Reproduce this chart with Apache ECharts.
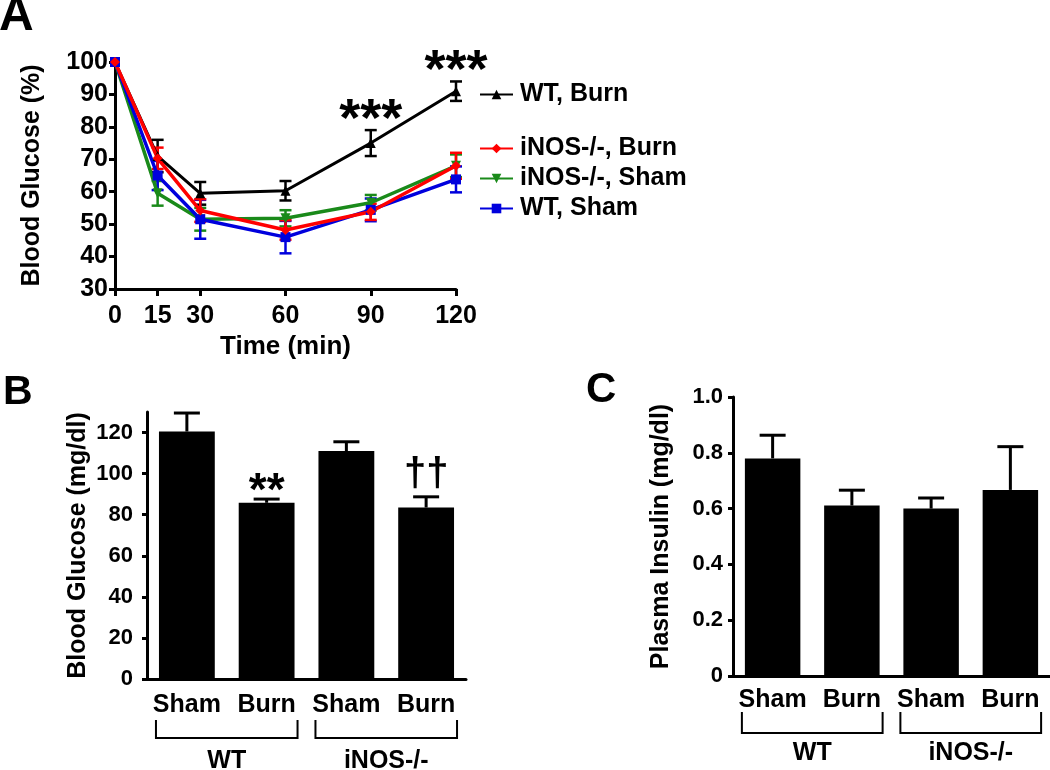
<!DOCTYPE html>
<html>
<head>
<meta charset="utf-8">
<script src="https://cdn.jsdelivr.net/npm/echarts@6/dist/echarts.min.js"></script>
<style>html,body{margin:0;padding:0;background:#fff}#c{width:1050px;height:770px}</style>
</head>
<body>
<div id="c"></div>
<script>
// ---------- Panel A data ----------
const timePoints = [0, 15, 30, 60, 90, 120];
const xTicksA = [0, 15, 30, 60, 90, 120];
const wtBurn = [100, 71, 59.5, 60.3, 75, 91];
const wtBurnErr = [0, 5, 3.5, 3, 4, 3];
const inosBurn = [100, 70.3, 54.2, 48.2, 53.8, 68];
const inosBurnErr = [0, 3.3, 3.5, 3, 2.5, 4];
const inosSham = [100, 59.5, 51.5, 51.8, 56.6, 68];
const inosShamErr = [0, 3.8, 3.5, 2.5, 2.4, 3.5];
const wtSham = [100, 65, 51.5, 46, 54.4, 63.8];
const wtShamErr = [0, 4.5, 6, 5, 3.5, 4];
const sigTimesA = [90, 120];
const sigLabelsA = ['***', '***'];

// ---------- Panel B / C data ----------
const barCategories = ['Sham', 'Burn', 'Sham', 'Burn'];
const glucoseMean = [120.5, 85.8, 111, 83.5];
const glucoseSem = [9, 1.8, 4.5, 5.2];
const glucoseSig = ['', '**', '', '\u2020\u2020'];
const yTicksB = [0, 20, 40, 60, 80, 100, 120];
const insulinMean = [0.78, 0.611, 0.6, 0.667];
const insulinSem = [0.083, 0.055, 0.038, 0.155];
const groupLabels = ['WT', 'iNOS-/-'];
const groupStart = [0, 2];
const groupEnd = [1, 3];

const FONT = 'Liberation Sans, Arial, Helvetica, sans-serif';
const BLACK = '#000';

const chart = echarts.init(document.getElementById('c'));

function errBarsA(values, errs, color) {
  return {
    type: 'custom', xAxisIndex: 0, yAxisIndex: 0, silent: true, z: 3,
    data: timePoints.map((t, i) => [t, values[i], errs[i]]),
    renderItem(params, api) {
      const x = api.value(0), y = api.value(1), e = api.value(2);
      if (!e) return null;
      const top = api.coord([x, y + e]);
      const bot = api.coord([x, y - e]);
      const hw = 6;
      const st = { stroke: color, lineWidth: 2.5, fill: null };
      return { type: 'group', children: [
        { type: 'line', shape: { x1: top[0], y1: top[1], x2: bot[0], y2: bot[1] }, style: st },
        { type: 'line', shape: { x1: top[0] - hw, y1: top[1], x2: top[0] + hw, y2: top[1] }, style: st },
        { type: 'line', shape: { x1: bot[0] - hw, y1: bot[1], x2: bot[0] + hw, y2: bot[1] }, style: st }
      ]};
    }
  };
}

function lineSeries(name, values, color, symbol, rotate, width) {
  return {
    type: 'line', name, xAxisIndex: 0, yAxisIndex: 0, z: 4,
    data: timePoints.map((t, i) => [t, values[i]]),
    symbol, symbolSize: 10, symbolRotate: rotate || 0, showSymbol: true,
    lineStyle: { color, width: width || 3.5 },
    itemStyle: { color },
    animation: false
  };
}

function upErrBars(means, sems, idx) {
  return {
    type: 'custom', xAxisIndex: idx, yAxisIndex: idx, silent: true, z: 1,
    data: means.map((m, i) => [i, m, sems[i]]),
    renderItem(params, api) {
      const i = api.value(0), m = api.value(1), e = api.value(2);
      const base = api.coord([i, m]);
      const top = api.coord([i, m + e]);
      const hw = 13;
      const st = { stroke: BLACK, lineWidth: 3, fill: null };
      return { type: 'group', children: [
        { type: 'line', shape: { x1: base[0], y1: base[1], x2: top[0], y2: top[1] }, style: st },
        { type: 'line', shape: { x1: top[0] - hw, y1: top[1], x2: top[0] + hw, y2: top[1] }, style: st }
      ]};
    }
  };
}

function brackets(idx, dTop, dBot, dText) {
  return {
    type: 'custom', xAxisIndex: idx, yAxisIndex: idx, silent: true, clip: false,
    data: groupLabels.map((g, i) => [groupStart[i], groupEnd[i], g]),
    renderItem(params, api) {
      const p0 = api.coord([api.value(0), 0]);
      const p1 = api.coord([api.value(1), 0]);
      const half = api.size([1, 0])[0] * 0.7 / 2;
      const xL = p0[0] - half - 3, xR = p1[0] + half + 3;
      const y0 = p0[1];
      return { type: 'group', children: [
        { type: 'polyline', shape: { points: [[xL, y0 + dTop], [xL, y0 + dBot], [xR, y0 + dBot], [xR, y0 + dTop]] },
          style: { stroke: BLACK, lineWidth: 2, fill: null } },
        { type: 'text', x: (xL + xR) / 2, y: y0 + dText,
          style: { text: api.value(2), fill: BLACK, fontSize: 25, fontWeight: 'bold', fontFamily: FONT, align: 'center', verticalAlign: 'middle' } }
      ]};
    }
  };
}

const axisLineStyle = { show: true, lineStyle: { color: BLACK, width: 3 } };
const labelStyle = (size) => ({ color: BLACK, fontSize: size, fontWeight: 'bold', fontFamily: FONT });

const option = {
  animation: false,
  backgroundColor: '#fff',
  textStyle: { fontFamily: FONT },
  title: [
    { text: 'A', left: -1, top: -7, padding: 0, textStyle: { fontSize: 48, fontWeight: 'bold', color: BLACK, fontFamily: FONT } },
    { text: 'B', left: 3, top: 372, padding: 0, textStyle: { fontSize: 41, fontWeight: 'bold', color: BLACK, fontFamily: FONT } },
    { text: 'C', left: 586, top: 369, padding: 0, textStyle: { fontSize: 42, fontWeight: 'bold', color: BLACK, fontFamily: FONT } }
  ],
  legend: [
    { data: ['WT, Burn'], left: 479, top: 82, padding: 0, orient: 'vertical', itemWidth: 33, itemHeight: 12,
      textStyle: { ...labelStyle(25), padding: [0, 0, 0, 2] }, selectedMode: false },
    { data: ['iNOS-/-, Burn', 'iNOS-/-, Sham', 'WT, Sham'], left: 479, top: 136, padding: 0, orient: 'vertical', itemGap: 5,
      itemWidth: 33, itemHeight: 12, textStyle: { ...labelStyle(25), padding: [0, 0, 0, 2] }, selectedMode: false }
  ],
  grid: [
    { left: 115, top: 62, width: 341, height: 227 },
    { left: 147, top: 412, width: 319, height: 267 },
    { left: 733, top: 397, width: 317, height: 279 }
  ],
  xAxis: [
    { gridIndex: 0, type: 'value', min: 0, max: 120, axisLine: axisLineStyle, splitLine: { show: false },
      axisTick: { show: true, length: 7, lineStyle: { color: BLACK, width: 3 }, customValues: xTicksA },
      axisLabel: { ...labelStyle(25), margin: 15, customValues: xTicksA },
      name: 'Time (min)', nameLocation: 'middle', nameGap: 45, nameTextStyle: labelStyle(26) },
    { gridIndex: 1, type: 'category', data: barCategories, axisLine: axisLineStyle, axisTick: { show: false },
      axisLabel: { ...labelStyle(25), margin: 14, interval: 0, hideOverlap: false } },
    { gridIndex: 2, type: 'category', data: barCategories, axisLine: axisLineStyle, axisTick: { show: false },
      axisLabel: { ...labelStyle(25), margin: 12, interval: 0, hideOverlap: false } }
  ],
  yAxis: [
    { gridIndex: 0, type: 'value', min: 30, max: 100, interval: 10, axisLine: axisLineStyle, splitLine: { show: false },
      axisTick: { show: true, length: 6, lineStyle: { color: BLACK, width: 3 } },
      axisLabel: { ...labelStyle(25), margin: 7 },
      name: 'Blood Glucose (%)', nameLocation: 'middle', nameGap: 70, nameTextStyle: labelStyle(25) },
    { gridIndex: 1, type: 'value', min: 0, max: 130, interval: 20, axisLine: axisLineStyle, splitLine: { show: false },
      axisTick: { show: true, length: 5, lineStyle: { color: BLACK, width: 3 }, customValues: yTicksB },
      axisLabel: { ...labelStyle(22), margin: 14, customValues: yTicksB },
      name: 'Blood Glucose (mg/dl)', nameLocation: 'middle', nameGap: 56, nameTextStyle: labelStyle(25) },
    { gridIndex: 2, type: 'value', min: 0, max: 1, interval: 0.2, axisLine: axisLineStyle, splitLine: { show: false },
      axisTick: { show: true, length: 5, lineStyle: { color: BLACK, width: 3 } },
      axisLabel: { ...labelStyle(22), margin: 10, formatter: v => v === 0 ? '0' : v.toFixed(1) },
      name: 'Plasma Insulin (mg/dl)', nameLocation: 'middle', nameGap: 59, nameTextStyle: labelStyle(25) }
  ],
  series: [
    errBarsA(wtBurn, wtBurnErr, '#000'),
    errBarsA(inosSham, inosShamErr, '#1a8a1a'),
    errBarsA(wtSham, wtShamErr, '#0000dd'),
    errBarsA(inosBurn, inosBurnErr, '#ff0000'),
    lineSeries('WT, Burn', wtBurn, '#000', 'triangle', 0, 3),
    lineSeries('iNOS-/-, Sham', inosSham, '#1a8a1a', 'triangle', 180, 3.5),
    lineSeries('WT, Sham', wtSham, '#0000dd', 'rect', 0, 3.5),
    lineSeries('iNOS-/-, Burn', inosBurn, '#ff0000', 'diamond', 0, 3.5),
    {
      type: 'custom', xAxisIndex: 0, yAxisIndex: 0, silent: true, clip: false, z: 5,
      data: sigTimesA.map((t, k) => { const i = timePoints.indexOf(t); return [t, wtBurn[i] + wtBurnErr[i], sigLabelsA[k]]; }),
      renderItem(params, api) {
        const p = api.coord([api.value(0), api.value(1)]);
        return { type: 'text', x: p[0], y: p[1] - 9,
          style: { text: api.value(2), fill: BLACK, fontSize: 54, fontWeight: 'bold', fontFamily: FONT, align: 'center', verticalAlign: 'middle' } };
      }
    },
    { type: 'bar', xAxisIndex: 1, yAxisIndex: 1, data: glucoseMean, barWidth: '70%', itemStyle: { color: BLACK }, z: 2 },
    upErrBars(glucoseMean, glucoseSem, 1),
    {
      type: 'custom', xAxisIndex: 1, yAxisIndex: 1, silent: true, clip: false, z: 5,
      data: glucoseMean.map((m, i) => [i, m + glucoseSem[i], glucoseSig[i]]),
      renderItem(params, api) {
        const s = api.value(2);
        if (!s) return null;
        const p = api.coord([api.value(0), api.value(1)]);
        const isDagger = s.indexOf('\u2020') >= 0;
        return { type: 'text', x: p[0], y: p[1] - (isDagger ? 22 : 7),
          style: { text: s, fill: BLACK, fontSize: isDagger ? 40 : 46, fontWeight: 'bold', fontFamily: FONT, align: 'center', verticalAlign: 'middle' } };
      }
    },
    brackets(1, 41, 59, 82),
    { type: 'bar', xAxisIndex: 2, yAxisIndex: 2, data: insulinMean, barWidth: '70%', itemStyle: { color: BLACK }, z: 2 },
    upErrBars(insulinMean, insulinSem, 2),
    brackets(2, 36, 57, 77)
  ]
};
chart.setOption(option);
</script>
</body>
</html>
